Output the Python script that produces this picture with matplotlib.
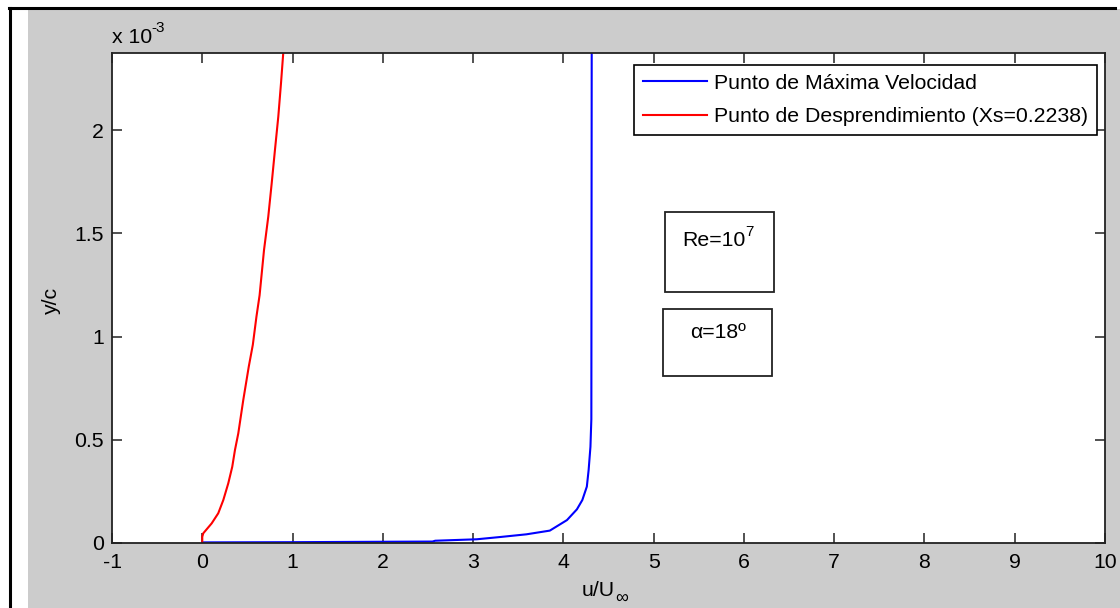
import numpy as np
import matplotlib.pyplot as plt
from matplotlib.patches import Rectangle
from matplotlib.lines import Line2D
from matplotlib.ticker import FuncFormatter

plt.rcParams['font.family'] = ['Liberation Sans', 'DejaVu Sans']
plt.rcParams['axes.unicode_minus'] = False

# velocity profiles (u/Uinf vs y/c)
u_max = [0.0, 1.0, 2.0, 2.55, 2.58, 3.04, 3.30, 3.59, 3.85, 4.04, 4.15, 4.21,
         4.26, 4.28, 4.30, 4.31, 4.314]
y_max = [0.003e-3, 0.004e-3, 0.006e-3, 0.007e-3, 0.011e-3, 0.018e-3, 0.029e-3,
         0.042e-3, 0.060e-3, 0.111e-3, 0.163e-3, 0.208e-3, 0.273e-3, 0.354e-3,
         0.466e-3, 0.600e-3, 2.373e-3]

u_sep = [0.0, 0.0, 0.011, 0.104, 0.177, 0.233, 0.288, 0.332, 0.362, 0.399, 0.454,
         0.515, 0.560, 0.600, 0.635, 0.684, 0.731, 0.769, 0.805, 0.842, 0.872, 0.897]
y_sep = [0.0, 0.030e-3, 0.047e-3, 0.095e-3, 0.144e-3, 0.208e-3, 0.289e-3, 0.369e-3,
         0.450e-3, 0.531e-3, 0.692e-3, 0.854e-3, 0.960e-3, 1.096e-3, 1.200e-3,
         1.419e-3, 1.580e-3, 1.742e-3, 1.903e-3, 2.064e-3, 2.226e-3, 2.373e-3]

xticks = [-1, 0, 1, 2, 3, 4, 5, 6, 7, 8, 9, 10]
yticks = [0, 0.5e-3, 1.0e-3, 1.5e-3, 2.0e-3]

labels = ['Punto de Máxima Velocidad', 'Punto de Desprendimiento (Xs=0.2238)']

W, H = 1120, 608
def fx(px):
    return px / W
def fy(py):
    return 1 - py / H

FS = 15.3
FS_SUP = 11

fig = plt.figure(figsize=(W / 100, H / 100), dpi=100, facecolor='white')

# matlab style grey figure area plus the black frame lines
fig.patches.append(Rectangle((fx(28), 0), fx(W) - fx(28), fy(9), transform=fig.transFigure,
                             facecolor='#cccccc', edgecolor='none', zorder=-10))
fig.lines.append(Line2D([fx(10), fx(10)], [0, fy(8)], transform=fig.transFigure, color='black', lw=2.2))
fig.lines.append(Line2D([fx(9), fx(1115)], [fy(8), fy(8)], transform=fig.transFigure, color='black', lw=2.2))

ax = fig.add_axes([fx(112), fy(543), fx(1105) - fx(112), fy(53) - fy(543)])
ax.set_facecolor('white')

ax.plot(u_max, y_max, color='#0000ff', lw=1.5, label=labels[0])
ax.plot(u_sep, y_sep, color='#ff0000', lw=1.5, label=labels[1])

ax.set_xlim(-1, 10)
ax.set_ylim(0, 2.373e-3)
ax.set_xticks(xticks)
ax.set_yticks(yticks)
ax.yaxis.set_major_formatter(FuncFormatter(lambda v, p: f'{v * 1e3:g}'))
ax.tick_params(direction='in', length=7.5, width=1.1, top=True, right=True,
               labelsize=FS, color='#222222')
ax.tick_params(axis='x', pad=7)
ax.tick_params(axis='y', pad=6)
for s in ax.spines.values():
    s.set_linewidth(1.3)
    s.set_color('#222222')

leg = ax.legend(loc='upper right', fontsize=FS,
                frameon=True, fancybox=False, framealpha=1, borderaxespad=0,
                handlelength=3.0, handletextpad=0.35, borderpad=0.42, labelspacing=0.68)
leg.set_bbox_to_anchor((fx(1097), fy(65)), transform=fig.transFigure)
leg.get_frame().set_edgecolor('black')
leg.get_frame().set_linewidth(1.2)

# exponent label above the y axis
fig.text(fx(112), fy(43), 'x 10', fontsize=FS, ha='left', va='baseline')
fig.text(fx(151), fy(32), '-3', fontsize=FS_SUP, ha='left', va='baseline')

fig.text(fx(51), fy(300), 'y/c', fontsize=FS, rotation=90, ha='center', va='center')
fig.text(fx(615), fy(596), 'u/U', fontsize=FS, ha='right', va='baseline')
fig.text(fx(615), fy(603), '∞', fontsize=13, ha='left', va='baseline')

# annotation boxes
fig.patches.append(Rectangle((fx(665), fy(292)), fx(774) - fx(665), fy(212) - fy(292),
                             transform=fig.transFigure, facecolor='none', edgecolor='#222222', lw=1.3))
fig.patches.append(Rectangle((fx(663), fy(376)), fx(772) - fx(663), fy(309) - fy(376),
                             transform=fig.transFigure, facecolor='none', edgecolor='#222222', lw=1.3))
fig.text(fx(746), fy(246), 'Re=10', fontsize=FS, ha='right', va='baseline')
fig.text(fx(745), fy(236), '7', fontsize=FS_SUP, ha='left', va='baseline')
fig.text(fx(718), fy(338), 'α=18º', fontsize=FS, ha='center', va='baseline')

fig.savefig('out.png', dpi=100, facecolor=fig.get_facecolor())
